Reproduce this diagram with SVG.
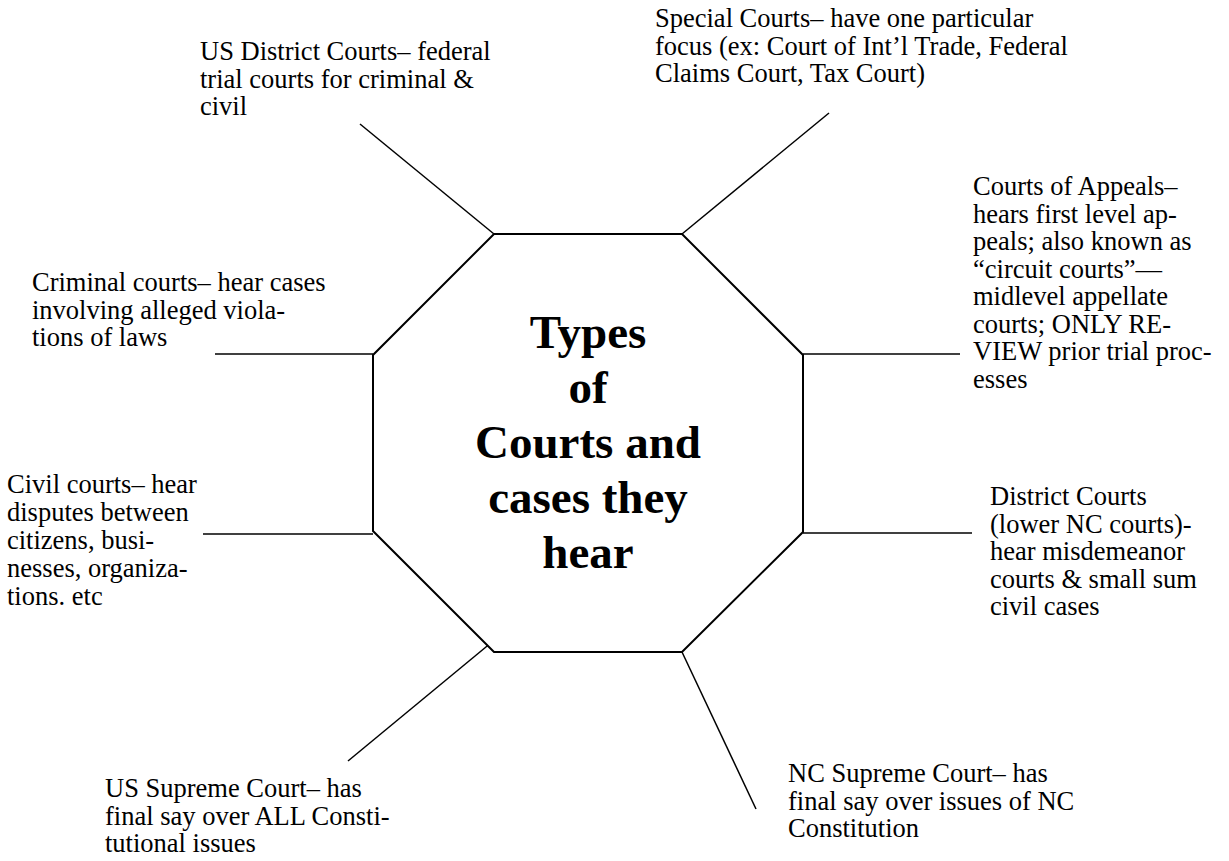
<svg xmlns="http://www.w3.org/2000/svg" width="1229" height="861" viewBox="0 0 1229 861">
<style>
.lbl{font-family:'Times New Roman','Liberation Serif',serif;font-size:26.5px;font-weight:normal;fill:#000}
.title{font-family:'Times New Roman','Liberation Serif',serif;font-size:47px;font-weight:bold;fill:#000;text-anchor:middle}
.oct{fill:#fff;stroke:#000;stroke-width:2}
.ln{stroke:#000;stroke-width:1.5;fill:none}
</style>
<rect width="1229" height="861" fill="#fff"/>
<g id="connectors">
<line class="ln" x1="360" y1="124" x2="494" y2="234"/>
<line class="ln" x1="829" y1="113" x2="682" y2="234"/>
<line class="ln" x1="803" y1="354" x2="960" y2="354"/>
<line class="ln" x1="803" y1="533" x2="972" y2="533"/>
<line class="ln" x1="682" y1="652" x2="756" y2="809"/>
<line class="ln" x1="348" y1="761" x2="492" y2="642"/>
<line class="ln" x1="215" y1="354" x2="373" y2="354"/>
<line class="ln" x1="203" y1="534" x2="373" y2="534"/>
</g>
<g id="center">
<polygon class="oct" points="494,234 682,234 803,355 803,532 682,652 494,652 373,531 373,355"/>
<text class="title" x="588" y="348">Types<tspan x="588" dy="55">of</tspan><tspan x="588" dy="55">Courts and</tspan><tspan x="588" dy="55">cases they</tspan><tspan x="588" dy="55">hear</tspan></text>
</g>
<g id="us-district">
<text class="lbl" x="200" y="60">US District Courts– federal<tspan x="200" dy="27.5">trial courts for criminal &amp;</tspan><tspan x="200" dy="27.5">civil</tspan></text>
</g>
<g id="special">
<text class="lbl" x="655" y="27">Special Courts– have one particular<tspan x="655" dy="27.5">focus (ex: Court of Int’l Trade, Federal</tspan><tspan x="655" dy="27.5">Claims Court, Tax Court)</tspan></text>
</g>
<g id="appeals">
<text class="lbl" x="973" y="195">Courts of Appeals–<tspan x="973" dy="27.5">hears first level ap-</tspan><tspan x="973" dy="27.5">peals; also known as</tspan><tspan x="973" dy="27.5">“circuit courts”—</tspan><tspan x="973" dy="27.5">midlevel appellate</tspan><tspan x="973" dy="27.5">courts; ONLY RE-</tspan><tspan x="973" dy="27.5">VIEW prior trial proc-</tspan><tspan x="973" dy="27.5">esses</tspan></text>
</g>
<g id="criminal">
<text class="lbl" x="32" y="291">Criminal courts– hear cases<tspan x="32" dy="27.5">involving alleged viola-</tspan><tspan x="32" dy="27.5">tions of laws</tspan></text>
</g>
<g id="civil">
<text class="lbl" x="7" y="493">Civil courts– hear<tspan x="7" dy="28">disputes between</tspan><tspan x="7" dy="28">citizens, busi-</tspan><tspan x="7" dy="28">nesses, organiza-</tspan><tspan x="7" dy="28">tions. etc</tspan></text>
</g>
<g id="district">
<text class="lbl" x="990" y="505">District Courts<tspan x="990" dy="27.5">(lower NC courts)-</tspan><tspan x="990" dy="27.5">hear misdemeanor</tspan><tspan x="990" dy="27.5">courts &amp; small sum</tspan><tspan x="990" dy="27.5">civil cases</tspan></text>
</g>
<g id="nc-supreme">
<text class="lbl" x="788" y="782">NC Supreme Court– has<tspan x="788" dy="27.5">final say over issues of NC</tspan><tspan x="788" dy="27.5">Constitution</tspan></text>
</g>
<g id="us-supreme">
<text class="lbl" x="105" y="797">US Supreme Court– has<tspan x="105" dy="27.5">final say over ALL Consti-</tspan><tspan x="105" dy="27.5">tutional issues</tspan></text>
</g>
</svg>
